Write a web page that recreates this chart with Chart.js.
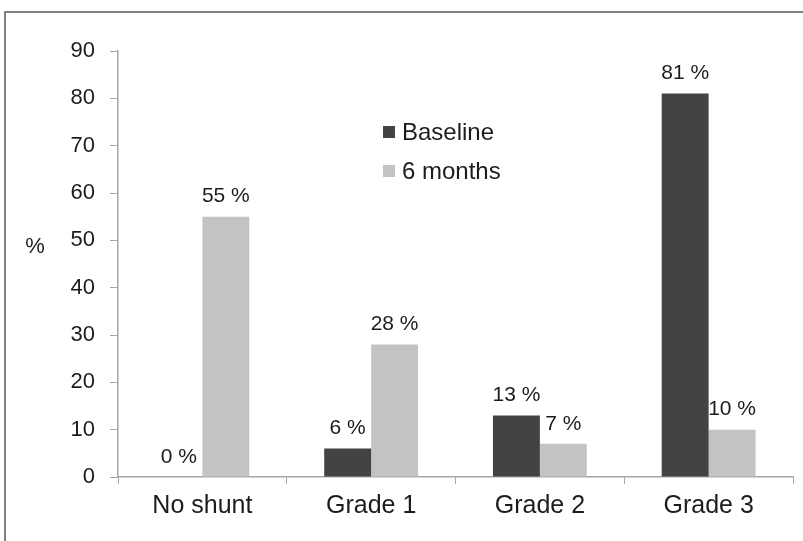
<!DOCTYPE html>
<html>
<head>
<meta charset="utf-8">
<script src="https://cdn.jsdelivr.net/npm/chart.js@4"></script>
<style>
    html, body { margin: 0; padding: 0; background: #fff; }
    #wrap { position: relative; width: 803px; height: 541px; }
</style>
</head>
<body>
<div id="wrap"><canvas id="chart" width="803" height="541"></canvas></div>
<script>
// Chart data
const categories = ['No shunt', 'Grade 1', 'Grade 2', 'Grade 3'];
const baselineValues = [0, 6, 13, 81];
const sixMonthValues = [55, 28, 7, 10];
const yTicks = [0, 10, 20, 30, 40, 50, 60, 70, 80, 90];

const FONT = '"Liberation Sans", Arial, Helvetica, sans-serif';
const DARK = '#434343';
const LIGHT = '#c3c3c3';
const AXIS = '#a6a6a6';
const TEXT = '#1c1c1c';

/**
 * Frame, axis title, legend and value labels
 */
const decorPlugin = {
    id: 'decor',
    beforeDraw(chart) {
        const ctx = chart.ctx;
        ctx.save();
        ctx.fillStyle = '#fff';
        ctx.fillRect(0, 0, chart.width, chart.height);
        // outer frame (only top and left visible)
        ctx.strokeStyle = '#808080';
        ctx.lineWidth = 2;
        ctx.beginPath();
        ctx.moveTo(5, chart.height);
        ctx.lineTo(5, 12);
        ctx.lineTo(chart.width, 12);
        ctx.stroke();
        ctx.restore();
    },
    afterDatasetsDraw(chart) {
        const ctx = chart.ctx;
        ctx.save();
        ctx.fillStyle = TEXT;
        ctx.textAlign = 'center';
        ctx.textBaseline = 'middle';

        // y axis title
        ctx.font = '22px ' + FONT;
        ctx.fillText('%', 35, 247);

        // value labels
        ctx.font = '21px ' + FONT;
        chart.data.datasets.forEach((ds, i) => {
            chart.getDatasetMeta(i).data.forEach((bar, j) => {
                ctx.fillText(ds.data[j] + ' %', bar.x, bar.y - 20);
            });
        });

        // legend
        ctx.textAlign = 'left';
        ctx.font = '24px ' + FONT;
        chart.data.datasets.forEach((ds, i) => {
            const y = 132 + i * 39;
            ctx.fillStyle = ds.backgroundColor;
            ctx.fillRect(383, y - 6, 12, 12);
            ctx.fillStyle = TEXT;
            ctx.fillText(ds.label, 402, y + 1);
        });
        ctx.restore();
    },
};

new Chart(document.getElementById('chart').getContext('2d'), {
    type: 'bar',
    data: {
        labels: categories,
        datasets: [
            { label: 'Baseline', data: baselineValues, backgroundColor: DARK },
            { label: '6 months', data: sixMonthValues, backgroundColor: LIGHT },
        ],
    },
    options: {
        responsive: false,
        animation: false,
        layout: { padding: { left: 0, top: 51, right: 10, bottom: 0 } },
        datasets: {
            bar: { barPercentage: 1, categoryPercentage: 0.556 },
        },
        scales: {
            x: {
                grid: {
                    offset: true,
                    drawOnChartArea: false,
                    drawTicks: true,
                    tickLength: 7,
                    color: AXIS,
                },
                border: { color: AXIS, width: 1.5 },
                ticks: {
                    color: TEXT,
                    font: { family: FONT, size: 25 },
                    padding: 7,
                },
                afterFit(scale) { scale.height = 64; },
            },
            y: {
                min: 0,
                max: 90,
                afterBuildTicks(scale) { scale.ticks = yTicks.map(v => ({ value: v })); },
                grid: {
                    drawOnChartArea: false,
                    drawTicks: true,
                    tickLength: 8,
                    color: AXIS,
                },
                border: { color: AXIS, width: 1.5 },
                ticks: {
                    color: TEXT,
                    font: { family: FONT, size: 22 },
                    padding: 15,
                },
                afterFit(scale) { scale.width = 118; },
            },
        },
        plugins: {
            legend: { display: false },
            tooltip: { enabled: false },
        },
    },
    plugins: [decorPlugin],
});
</script>
</body>
</html>
